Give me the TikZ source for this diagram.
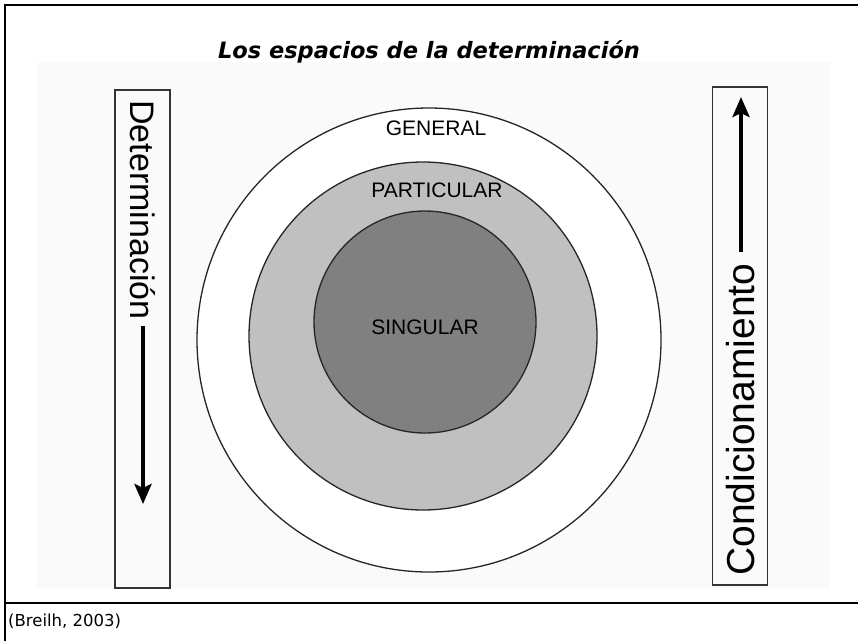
\documentclass[tikz,border=0pt]{standalone}
\usepackage{fontspec}
\setmainfont{DejaVu Sans}
\newfontfamily\arialf{Liberation Sans}
\usetikzlibrary{arrows.meta}
\definecolor{midgray}{HTML}{C0C0C0}
\definecolor{darkgray}{HTML}{808080}
\definecolor{bgfaint}{HTML}{FAFAFA}
\tikzset{
  ring/.style={circle, draw=black!85, line width=1.3pt, inner sep=0pt},
  sidebox/.style={draw=black!80, line width=1.3pt, minimum width=55pt, inner sep=0pt},
  ringlabel/.style={font=\arialf\fontsize{21}{24}\selectfont, inner sep=0pt},
  bigarrow/.style={line width=4pt, -{Stealth[length=20pt, width=17pt, inset=4pt]}},
  frameline/.style={line width=2pt, black}
}
\begin{document}
\begin{tikzpicture}[x=1pt,y=-1pt]
\useasboundingbox (0,0) rectangle (858,641);
\fill[bgfaint] (37,62) rectangle (830,588);
\draw[frameline] (5,641) -- (5,5) -- (858,5);
\draw[frameline, line width=2.5pt] (5,603) -- (858,603);
\node[font=\fontsize{22.5}{26}\selectfont\bfseries\itshape, inner sep=0pt] (title) at (429,52) {Los espacios de la determinación};
\node[font=\fontsize{16.5}{19}\selectfont, anchor=west, inner sep=0pt] (src) at (8,621) {(Breilh, 2003)};
% circles
\node[ring, fill=white, minimum size=464pt] (general) at (429,340) {};
\node[ring, fill=midgray, minimum size=348pt] (particular) at (423,336) {};
\node[ring, fill=darkgray, minimum size=222pt] (singular) at (425,322) {};
\node[ringlabel] (tgen) at (436,128) {GENERAL};
\node[ringlabel] (tpar) at (437,190) {PARTICULAR};
\node[ringlabel] (tsin) at (425,327) {SINGULAR};
% left box
\node[sidebox, minimum height=498pt] (lbox) at (142.5,339) {};
\node[font=\arialf\fontsize{34}{40}\selectfont, inner sep=0pt, rotate=-90, anchor=west] (det) at (143,100) {Determinación};
\coordinate (la1) at (143,326);
\coordinate (la2) at (143,504);
\draw[bigarrow] (la1) -- (la2);
% right box
\node[sidebox, minimum height=498pt] (rbox) at (740,336) {};
\node[font=\arialf\fontsize{39}{44}\selectfont, inner sep=0pt, rotate=90, anchor=west] (cond) at (741,576) {Condicionamiento};
\coordinate (ra1) at (741,252);
\coordinate (ra2) at (741,97);
\draw[bigarrow] (ra1) -- (ra2);
\end{tikzpicture}
\end{document}
